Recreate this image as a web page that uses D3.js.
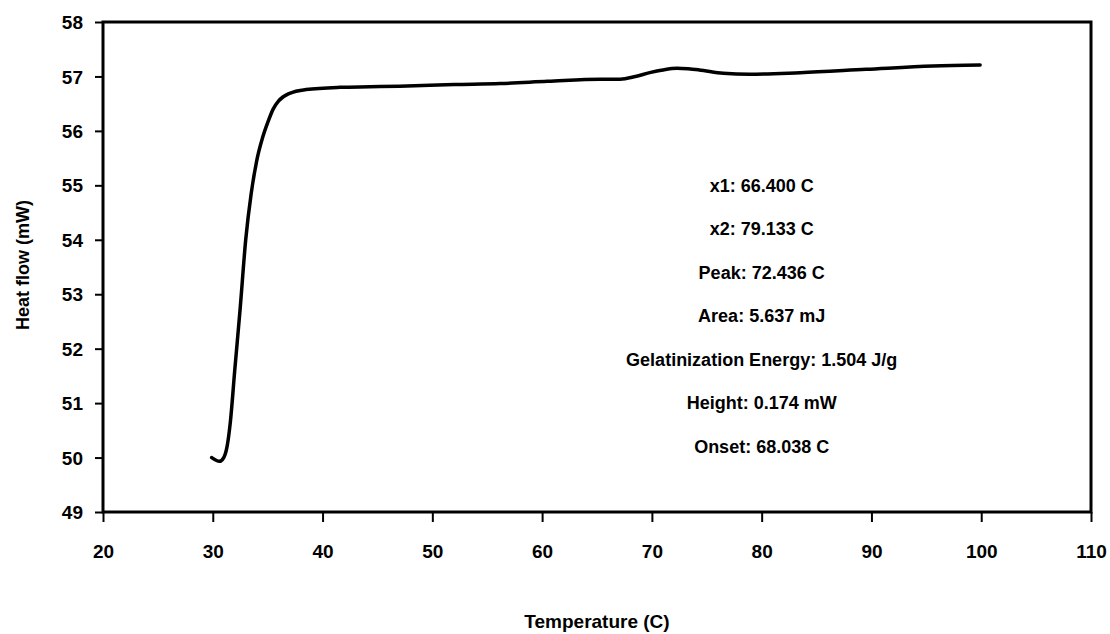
<!DOCTYPE html>
<html>
<head>
<meta charset="utf-8">
<script src="https://cdn.jsdelivr.net/npm/d3@7"></script>
<style>
  html, body { margin: 0; padding: 0; background: #fff; }
  svg text { font-family: "Liberation Sans", Arial, sans-serif; font-weight: bold; fill: #000; }
</style>
</head>
<body>
<svg id="chart" width="1110" height="634"></svg>
<script>
// ---- data ----
const temperature = [29.9, 30.3, 30.6, 31.0, 31.3, 31.6, 32.0, 32.5, 33.0, 33.5, 34.0, 34.5, 35.0, 35.5, 36.0, 37.0, 38.5, 41.6, 44.3, 47.0, 52.0, 56.2, 60.5, 65.3, 67.1, 68.5, 69.8, 71.0, 72.3, 73.3, 74.3, 76.5, 78.9, 83.5, 89.5, 95.6, 99.9];
const heatFlow    = [50.00, 49.95, 49.93, 50.00, 50.20, 50.65, 51.60, 52.75, 54.00, 54.85, 55.45, 55.85, 56.15, 56.40, 56.55, 56.69, 56.76, 56.80, 56.81, 56.82, 56.85, 56.87, 56.91, 56.95, 56.95, 57.00, 57.07, 57.12, 57.15, 57.14, 57.12, 57.06, 57.04, 57.07, 57.13, 57.19, 57.21];
const xTicks = [20, 30, 40, 50, 60, 70, 80, 90, 100, 110];
const yTicks = [49, 50, 51, 52, 53, 54, 55, 56, 57, 58];
const annotations = [
  "x1: 66.400 C",
  "x2: 79.133 C",
  "Peak: 72.436 C",
  "Area: 5.637 mJ",
  "Gelatinization Energy: 1.504 J/g",
  "Height: 0.174 mW",
  "Onset: 68.038 C"
];
const annotationX = 80;
const annotationY = [55.0, 54.2, 53.4, 52.6, 51.8, 51.0, 50.2];
const xTitle = "Temperature (C)";
const yTitle = "Heat flow (mW)";

// ---- layout ----
const svg = d3.select("#chart");
const pLeft = 103, pRight = 1091, pTop = 22, pBottom = 512;
const x = d3.scaleLinear().domain([20, 110]).range([pLeft, pRight]);
const y = d3.scaleLinear().domain([49, 58]).range([pBottom, pTop]);

// frame
svg.append("rect")
  .attr("x", pLeft).attr("y", pTop)
  .attr("width", pRight - pLeft).attr("height", pBottom - pTop)
  .attr("fill", "none").attr("stroke", "#000").attr("stroke-width", 3);

// x axis
const xAxis = d3.axisBottom(x).tickValues(xTicks).tickSize(10).tickPadding(36).tickFormat(d3.format("d"));
const gx = svg.append("g").attr("transform", `translate(0,${pBottom})`).call(xAxis);
gx.select(".domain").remove();
gx.selectAll(".tick line").attr("stroke", "#000").attr("stroke-width", 2);
gx.selectAll(".tick text").attr("font-size", 19).attr("dy", "0em");

// y axis
const yAxis = d3.axisLeft(y).tickValues(yTicks).tickSize(8).tickPadding(12).tickFormat(d3.format("d"));
const gy = svg.append("g").attr("transform", `translate(${pLeft},0)`).call(yAxis);
gy.select(".domain").remove();
gy.selectAll(".tick line").attr("stroke", "#000").attr("stroke-width", 2);
gy.selectAll(".tick text").attr("font-size", 19).attr("dy", "0.35em");

// axis titles
svg.append("text")
  .attr("x", (pLeft + pRight) / 2).attr("y", 628)
  .attr("text-anchor", "middle").attr("font-size", 19)
  .text(xTitle);
svg.append("text")
  .attr("transform", `translate(29,${(pTop + pBottom) / 2 - 2}) rotate(-90)`)
  .attr("text-anchor", "middle").attr("font-size", 18)
  .text(yTitle);

// curve
const pts = temperature.map((t, i) => [t, heatFlow[i]]);
const line = d3.line().x(d => x(d[0])).y(d => y(d[1])).curve(d3.curveMonotoneX);
svg.append("path")
  .datum(pts)
  .attr("d", line)
  .attr("fill", "none")
  .attr("stroke", "#000")
  .attr("stroke-width", 3.5)
  .attr("stroke-linejoin", "round")
  .attr("stroke-linecap", "round");

// annotations
svg.append("g").selectAll("text")
  .data(annotations)
  .join("text")
  .attr("x", x(annotationX))
  .attr("y", (d, i) => y(annotationY[i]))
  .attr("dy", "0.35em")
  .attr("text-anchor", "middle")
  .attr("font-size", 18)
  .text(d => d);
</script>
</body>
</html>
